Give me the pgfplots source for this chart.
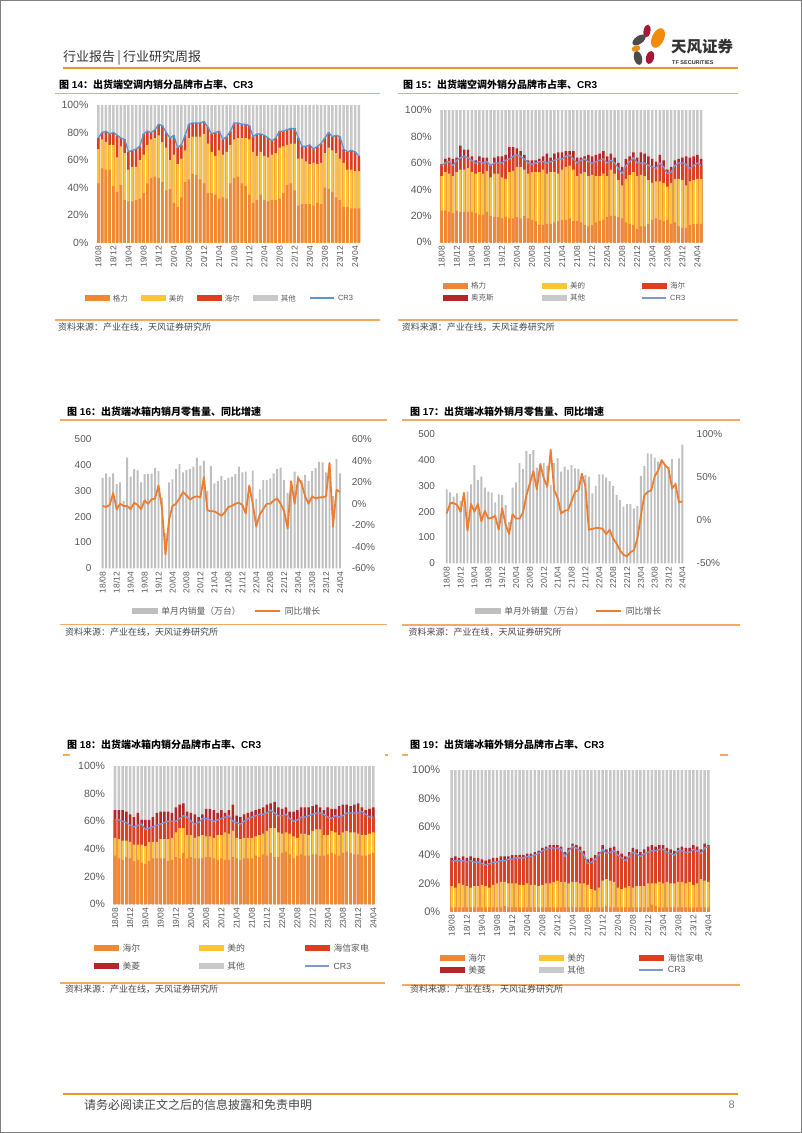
\documentclass[border=0pt]{standalone}
\usepackage{pgfplots}
\pgfplotsset{compat=1.18}
\usepackage{pgfplotstable}
\usepackage{fontspec}
\setmainfont{Liberation Sans}
\newfontfamily\cjk{Noto Sans CJK SC}

\definecolor{corg}{RGB}{240,135,50}
\definecolor{cyel}{RGB}{255,196,52}
\definecolor{cred}{RGB}{222,62,30}
\definecolor{cdred}{RGB}{180,38,40}
\definecolor{cgry}{RGB}{200,200,200}
\definecolor{cblue}{RGB}{85,150,215}
\definecolor{clav}{RGB}{125,152,212}
\definecolor{tickgray}{RGB}{89,89,89}
\definecolor{srcgray}{RGB}{70,70,70}
\definecolor{secline}{RGB}{242,170,100}
\definecolor{hdror}{RGB}{232,150,40}
\definecolor{vbar}{RGB}{191,191,191}
\definecolor{vline}{RGB}{237,125,49}
\definecolor{lgray}{RGB}{75,75,75}
\definecolor{lmaroon}{RGB}{165,25,55}
\definecolor{lorange}{RGB}{240,140,10}

\pgfplotsset{
  base/.style={scale only axis, axis line style={draw=none}, major tick length=0pt,
    tick style={draw=none},
    yticklabel style={text=tickgray},
    xticklabel style={rotate=90, anchor=east, font=\fontsize{8.5}{10}\selectfont, text=tickgray},
    xtick={0,4,...,68},
    xticklabels={18/08,18/12,19/04,19/08,19/12,20/04,20/08,20/12,21/04,21/08,21/12,22/04,22/08,22/12,23/04,23/08,23/12,24/04}},
  pct/.style={ymin=0, ymax=100, ytick={0,20,40,60,80,100},
    yticklabels={0\%,20\%,40\%,60\%,80\%,100\%}},
  bars/.style={ybar, bar shift=0pt, bar width=0.66, draw=none, fill=#1, forget plot},
  legbar/.style={legend image code/.code={\fill[#1] (0pt,-2.4pt) rectangle (24pt,2.4pt);}},
  legln/.style={legend image code/.code={\draw[#1] (0pt,0pt) -- (24pt,0pt);}},
  leg/.style={legend style={draw=none, fill=none, inner sep=0pt, outer sep=0pt, anchor=north west, nodes={inner sep=0.5pt, text depth=0pt}}, legend cell align=left},
}

\pgfplotstableread{
i org yel cr top
0 43 68 76 100
1 54 75 80 100
2 53 73 81 100
3 53 71 79 100
4 41 71 80 100
5 37 62 78 100
6 42 70 76 100
7 31 65 75 100
8 30 53 66 100
9 30 55 67 100
10 31 55 68 100
11 32 60 70 100
12 36 64 79 100
13 43 71 81 100
14 47 75 80 100
15 48 76 82 100
16 47 78 86 100
17 44 73 85 100
18 38 69 80 100
19 39 60 76 100
20 29 64 78 100
21 26 57 69 100
22 33 61 71 100
23 44 67 78 100
24 46 76 86 100
25 50 77 87 100
26 49 77 87 100
27 46 77 87 100
28 43 79 88 100
29 36 72 84 100
30 36 66 79 100
31 35 63 80 100
32 32 67 81 100
33 33 64 75 100
34 32 66 77 100
35 43 71 81 100
36 47 75 87 100
37 48 76 87 100
38 43 76 86 100
39 41 76 86 100
40 35 75 85 100
41 29 66 77 100
42 31 63 79 100
43 35 66 79 100
44 31 63 78 100
45 30 62 76 100
46 31 64 74 100
47 31 65 76 100
48 32 69 81 100
49 36 70 81 100
50 42 71 82 100
51 43 72 83 100
52 38 72 83 100
53 27 61 76 100
54 28 61 70 100
55 28 59 70 100
56 28 57 71 100
57 27 58 68 100
58 29 57 70 100
59 28 58 72 100
60 40 65 76 100
61 39 69 80 100
62 37 67 77 100
63 33 65 78 100
64 31 61 77 100
65 26 58 68 100
66 26 53 66 100
67 25 53 67 100
68 25 52 66 100
69 25 52 63 100
}\tabA

\pgfplotstableread{
i org yel cr tot top
0 24 50 58 59 100
1 24 53 60 63 100
2 23 52 61 64 100
3 22 50 58 63 100
4 24 53 62 64 100
5 23 55 64 73 100
6 23 55 65 70 100
7 23 56 64 70 100
8 23 53 62 65 100
9 22 52 60 62 100
10 21 53 61 65 100
11 21 52 60 64 100
12 23 54 61 64 100
13 20 49 58 59 100
14 19 52 60 64 100
15 19 52 60 65 100
16 18 49 60 65 100
17 19 48 62 66 100
18 18 53 63 72 100
19 18 54 65 72 100
20 19 57 66 71 100
21 18 57 65 69 100
22 20 55 63 66 100
23 18 52 60 62 100
24 17 53 59 62 100
25 16 53 60 62 100
26 13 53 61 63 100
27 13 55 61 65 100
28 14 52 60 67 100
29 14 53 61 64 100
30 15 53 62 67 100
31 16 52 63 68 100
32 17 55 63 68 100
33 17 57 65 69 100
34 18 58 66 69 100
35 16 55 63 69 100
36 16 50 60 64 100
37 15 52 62 64 100
38 13 53 63 65 100
39 12 50 61 66 100
40 13 51 60 65 100
41 15 50 61 66 100
42 16 50 62 67 100
43 17 52 63 69 100
44 19 50 60 65 100
45 20 55 62 67 100
46 20 52 60 64 100
47 19 47 56 60 100
48 18 43 52 57 100
49 15 48 58 63 100
50 14 51 61 65 100
51 13 53 64 68 100
52 10 50 60 64 100
53 12 51 60 68 100
54 12 50 60 67 100
55 14 47 58 65 100
56 17 45 57 63 100
57 18 46 56 61 100
58 17 46 60 66 100
59 16 45 57 62 100
60 17 42 52 55 100
61 14 45 53 57 100
62 15 48 58 62 100
63 12 48 60 63 100
64 11 47 60 64 100
65 11 43 59 65 100
66 13 46 56 64 100
67 14 47 58 65 100
68 14 48 60 66 100
69 14 48 58 63 100
}\tabB

\pgfplotstableread{
i v g
0 351 -2
1 368 -3
2 354 -1
3 368 10
4 326 -5
5 333 0
6 260 -2
7 429 -2
8 355 -5
9 384 1
10 380 -1
11 333 -5
12 365 3
13 365 0
14 367 4
15 388 5
16 377 17
17 274 -5
18 136 -47
19 333 -15
20 345 -2
21 385 0
22 404 5
23 372 11
24 381 8
25 385 4
26 394 6
27 429 7
28 398 6
29 416 25
30 300 -6
31 397 -7
32 329 -7
33 338 -9
34 358 -11
35 342 -8
36 351 -3
37 355 -2
38 365 0
39 394 1
40 372 -1
41 375 -9
42 280 17
43 379 0
44 269 -21
45 306 -10
46 342 -5
47 342 0
48 349 0
49 368 3
50 385 5
51 390 0
52 342 -7
53 291 -23
54 333 21
55 375 0
56 359 24
57 342 19
58 362 7
59 338 0
60 377 7
61 388 5
62 413 6
63 411 6
64 372 7
65 407 38
66 280 -21
67 424 13
68 368 11
}\tabC

\pgfplotstableread{
i v g
0 287 8
1 275 20
2 258 20
3 271 18
4 242 10
5 226 32
6 278 -12
7 306 19
8 381 10
9 323 19
10 336 -1
11 293 11
12 278 2
13 274 3
14 236 5
15 267 -11
16 264 14
17 226 -5
18 160 -16
19 293 7
20 314 2
21 388 2
22 366 9
23 435 29
24 423 43
25 439 57
26 371 36
27 388 65
28 388 49
29 379 39
30 304 82
31 388 35
32 407 26
33 355 8
34 375 11
35 362 12
36 381 22
37 368 33
38 366 35
39 349 54
40 342 40
41 336 -11
42 271 -10
43 300 -9
44 345 -9
45 345 -10
46 332 -16
47 319 -11
48 300 -21
49 265 -27
50 245 -35
51 220 -40
52 229 -42
53 230 -37
54 213 -35
55 222 -21
56 339 5
57 377 29
58 426 33
59 423 35
60 410 51
61 394 58
62 394 70
63 379 64
64 375 60
65 404 37
66 314 42
67 407 21
68 460 22
}\tabD

\pgfplotstableread{
i org yel cr tot top
0 35 48 61 68 100
1 33 47 61 68 100
2 32 46 60 68 100
3 34 46 59 67 100
4 33 45 57 65 100
5 31 43 56 63 100
6 32 43 57 66 100
7 30 43 58 61 100
8 29 42 54 61 100
9 31 45 55 61 100
10 33 45 56 63 100
11 33 45 57 66 100
12 33 47 58 67 100
13 33 47 59 67 100
14 31 47 60 67 100
15 32 48 60 66 100
16 34 52 60 70 100
17 33 55 62 72 100
18 37 55 64 73 100
19 33 50 63 67 100
20 34 50 60 66 100
21 33 48 58 65 100
22 33 49 59 63 100
23 33 50 62 65 100
24 34 49 62 69 100
25 34 49 61 69 100
26 33 48 60 68 100
27 32 50 61 66 100
28 33 50 62 68 100
29 32 52 63 66 100
30 32 51 64 68 100
31 34 53 60 72 100
32 33 48 59 64 100
33 32 47 58 63 100
34 33 48 60 65 100
35 33 48 62 66 100
36 33 48 63 67 100
37 35 49 64 68 100
38 34 50 65 69 100
39 36 51 65 70 100
40 35 53 66 72 100
41 37 55 68 73 100
42 34 55 66 74 100
43 34 52 64 70 100
44 37 51 64 69 100
45 38 52 65 70 100
46 36 51 62 67 100
47 33 49 60 67 100
48 35 48 61 68 100
49 36 51 63 70 100
50 35 51 63 70 100
51 35 50 64 70 100
52 36 53 65 71 100
53 36 54 66 72 100
54 35 54 66 70 100
55 35 50 65 68 100
56 36 50 63 70 100
57 37 53 62 69 100
58 36 52 64 69 100
59 35 50 63 71 100
60 37 52 64 72 100
61 38 53 66 72 100
62 37 52 66 71 100
63 36 52 66 72 100
64 36 51 66 73 100
65 35 50 67 70 100
66 35 50 65 68 100
67 36 51 63 69 100
68 37 52 63 70 100
}\tabE

\pgfplotstableread{
i org yel cr tot top
0 3 18 36 38 100
1 3 17 36 39 100
2 3 20 36 38 100
3 3 19 36 39 100
4 3 18 35 38 100
5 3 17 36 39 100
6 3 18 35 38 100
7 3 18 35 38 100
8 3 19 34 37 100
9 3 18 33 36 100
10 3 17 34 37 100
11 3 19 35 38 100
12 3 20 35 38 100
13 3 21 36 39 100
14 4 21 36 39 100
15 3 20 37 39 100
16 3 20 37 40 100
17 3 20 38 40 100
18 3 19 38 40 100
19 3 19 38 40 100
20 3 20 39 41 100
21 3 19 39 41 100
22 3 19 40 42 100
23 3 18 41 43 100
24 3 19 43 45 100
25 3 20 44 46 100
26 3 20 45 47 100
27 3 21 45 47 100
28 3 22 45 47 100
29 3 21 44 46 100
30 3 21 39 42 100
31 3 20 43 45 100
32 3 21 46 48 100
33 3 21 45 47 100
34 3 20 43 46 100
35 3 20 40 43 100
36 3 19 34 37 100
37 3 16 35 38 100
38 3 15 37 40 100
39 3 17 40 42 100
40 3 22 44 47 100
41 4 23 41 44 100
42 3 22 42 45 100
43 3 21 43 46 100
44 3 17 40 43 100
45 3 16 38 41 100
46 3 17 36 39 100
47 3 18 39 42 100
48 3 17 42 45 100
49 3 18 41 44 100
50 3 18 39 42 100
51 3 18 41 44 100
52 3 20 42 46 100
53 5 20 43 47 100
54 4 20 43 46 100
55 3 21 44 47 100
56 3 20 44 47 100
57 3 21 42 45 100
58 3 20 41 44 100
59 3 20 40 43 100
60 3 21 43 45 100
61 3 21 43 46 100
62 3 20 42 45 100
63 3 21 42 45 100
64 3 19 44 47 100
65 3 20 43 46 100
66 3 23 41 44 100
67 3 22 45 48 100
68 3 21 46 47 100
}\tabF

\begin{document}
\begin{tikzpicture}[x=1pt,y=1pt]
\useasboundingbox (0pt,0pt) rectangle (802pt,-1133pt);
\draw[gray, line width=1.2pt] (0.6pt,-0.6pt) rectangle (801.4pt,-1132.4pt);

% ---------- header ----------
\node[anchor=west, inner sep=0pt, text=black!80] at (63pt,-57.5pt) {\cjk\fontsize{13}{15}\selectfont 行业报告\,|\,行业研究周报};
\draw[hdror, line width=2pt] (63pt,-68pt) -- (738pt,-68pt);
\fill[lgray, rotate around={35:(639pt,-40pt)}] (639pt,-40pt) ellipse (7.5pt and 4pt);
\fill[lmaroon, rotate around={-10:(647pt,-31pt)}] (647pt,-31pt) ellipse (3.5pt and 6.5pt);
\fill[lorange, rotate around={-25:(658pt,-38pt)}] (658pt,-38pt) ellipse (6pt and 10.5pt);
\fill[lorange, rotate around={20:(636pt,-48.5pt)}] (636pt,-48.5pt) ellipse (4.5pt and 3pt);
\fill[lgray, rotate around={15:(638pt,-58pt)}] (638pt,-58pt) ellipse (4pt and 7pt);
\fill[lmaroon, rotate around={-15:(650pt,-57.5pt)}] (650pt,-57.5pt) ellipse (4pt and 6.5pt);
\node[anchor=west, inner sep=0pt, text=black!80] at (671pt,-47pt) {\cjk\bfseries\fontsize{15.5}{17}\selectfont 天风证券};
\node[anchor=west, inner sep=0pt, text=black!80] at (672pt,-63pt) {\bfseries\fontsize{5.5}{6}\selectfont TF SECURITIES};

% ---------- section titles & sources ----------
\node[anchor=west, inner sep=0pt] at (59pt,-84.7pt) {\bfseries\fontsize{10}{12}\selectfont{\cjk 图} 14{\cjk ：出货端空调内销分品牌市占率、}CR3};
\draw[secline, line width=1.2pt] (55pt,-93.3pt) -- (380pt,-93.3pt);
\draw[secline, line width=1.2pt] (55pt,-320pt) -- (380pt,-320pt);
\node[anchor=west, inner sep=0pt, text=srcgray] at (58pt,-327.3pt) {\cjk\fontsize{9}{11}\selectfont 资料来源：产业在线，天风证券研究所};

\node[anchor=west, inner sep=0pt] at (403pt,-85pt) {\bfseries\fontsize{10}{12}\selectfont{\cjk 图} 15{\cjk ：出货端空调外销分品牌市占率、}CR3};
\draw[secline, line width=1.2pt] (398pt,-93.3pt) -- (738pt,-93.3pt);
\draw[secline, line width=1.2pt] (398pt,-320pt) -- (738pt,-320pt);
\node[anchor=west, inner sep=0pt, text=srcgray] at (401.7pt,-327.3pt) {\cjk\fontsize{9}{11}\selectfont 资料来源：产业在线，天风证券研究所};

\node[anchor=west, inner sep=0pt] at (67pt,-411.7pt) {\bfseries\fontsize{10}{12}\selectfont{\cjk 图} 16{\cjk ：出货端冰箱内销月零售量、同比增速}};
\draw[secline, line width=1.2pt] (60pt,-420pt) -- (387pt,-420pt);
\draw[secline, line width=1.2pt] (60pt,-624.3pt) -- (387pt,-624.3pt);
\node[anchor=west, inner sep=0pt, text=srcgray] at (65pt,-632.3pt) {\cjk\fontsize{9}{11}\selectfont 资料来源：产业在线，天风证券研究所};

\node[anchor=west, inner sep=0pt] at (410pt,-411.7pt) {\bfseries\fontsize{10}{12}\selectfont{\cjk 图} 17{\cjk ：出货端冰箱外销月零售量、同比增速}};
\draw[secline, line width=1.2pt] (402pt,-420pt) -- (740pt,-420pt);
\draw[secline, line width=1.2pt] (402pt,-625pt) -- (740pt,-625pt);
\node[anchor=west, inner sep=0pt, text=srcgray] at (408.3pt,-632.3pt) {\cjk\fontsize{9}{11}\selectfont 资料来源：产业在线，天风证券研究所};

\node[anchor=west, inner sep=0pt] at (67pt,-745pt) {\bfseries\fontsize{10}{12}\selectfont{\cjk 图} 18{\cjk ：出货端冰箱内销分品牌市占率、}CR3};
\draw[secline, line width=1.2pt] (63pt,-755pt) -- (70pt,-755pt);
\draw[secline, line width=1.2pt] (385pt,-755pt) -- (388pt,-755pt);
\draw[secline, line width=1.2pt] (60pt,-983pt) -- (385pt,-983pt);
\node[anchor=west, inner sep=0pt, text=srcgray] at (65pt,-989.3pt) {\cjk\fontsize{9}{11}\selectfont 资料来源：产业在线，天风证券研究所};

\node[anchor=west, inner sep=0pt] at (410pt,-745pt) {\bfseries\fontsize{10}{12}\selectfont{\cjk 图} 19{\cjk ：出货端冰箱外销分品牌市占率、}CR3};
\draw[secline, line width=1.2pt] (401.7pt,-755pt) -- (408.3pt,-755pt);
\draw[secline, line width=1.2pt] (720pt,-755pt) -- (728pt,-755pt);
\draw[secline, line width=1.2pt] (402pt,-985pt) -- (740pt,-985pt);
\node[anchor=west, inner sep=0pt, text=srcgray] at (410pt,-989.3pt) {\cjk\fontsize{9}{11}\selectfont 资料来源：产业在线，天风证券研究所};

% ---------- footer ----------
\draw[hdror, line width=2pt] (63pt,-1094pt) -- (738pt,-1094pt);
\node[anchor=west, inner sep=0pt, text=srcgray] at (84pt,-1105pt) {\cjk\fontsize{12}{14}\selectfont 请务必阅读正文之后的信息披露和免责申明};
\node[anchor=east, inner sep=0pt, text=gray] at (735pt,-1105pt) {\fontsize{11}{13}\selectfont 8};

% ---------- chart 14 ----------
\begin{axis}[base, pct, at={(96.4pt,-242.7pt)}, anchor=south west, width=264.3pt, height=137.7pt,
  xmin=-0.5, xmax=69.5,
  yticklabel style={font=\fontsize{10.5}{12}\selectfont, xshift=-4.5pt},
  leg, legend columns=5,
  legend style={at={(-0.0431,-0.3747)}, font=\fontsize{7.5}{9}\selectfont, text=tickgray,
    /tikz/every odd column/.append style={column sep=3pt},
    /tikz/every even column/.append style={column sep=12.6pt}}]
\addplot[bars=cgry] table[x=i,y=top]{\tabA};
\addplot[bars=cred] table[x=i,y=cr]{\tabA};
\addplot[bars=cyel] table[x=i,y=yel]{\tabA};
\addplot[bars=corg] table[x=i,y=org]{\tabA};
\addplot[cblue, line width=1.3pt, line join=round, forget plot] table[x=i,y=cr]{\tabA};
\addlegendimage{legbar=corg}\addlegendentry{\makebox[15pt][l]{\cjk 格力}}
\addlegendimage{legbar=cyel}\addlegendentry{\makebox[15pt][l]{\cjk 美的}}
\addlegendimage{legbar=cred}\addlegendentry{\makebox[15pt][l]{\cjk 海尔}}
\addlegendimage{legbar=cgry}\addlegendentry{\makebox[15pt][l]{\cjk 其他}}
\addlegendimage{legln={cblue,line width=1.5pt}}\addlegendentry{CR3}
\end{axis}

% ---------- chart 15 ----------
\begin{axis}[base, pct, at={(439.8pt,-242.3pt)}, anchor=south west, width=263.2pt, height=132.3pt,
  xmin=-0.5, xmax=69.5,
  yticklabel style={font=\fontsize{10.5}{12}\selectfont, xshift=-4.5pt},
  leg, legend columns=3,
  legend style={at={(0.0133,-0.3001)}, font=\fontsize{7.5}{9}\selectfont, text=tickgray, row sep=4.7pt,
    /tikz/every odd column/.append style={column sep=3pt},
    /tikz/every even column/.append style={column sep=47.4pt}}]
\addplot[bars=cgry] table[x=i,y=top]{\tabB};
\addplot[bars=cdred] table[x=i,y=tot]{\tabB};
\addplot[bars=cred] table[x=i,y=cr]{\tabB};
\addplot[bars=cyel] table[x=i,y=yel]{\tabB};
\addplot[bars=corg] table[x=i,y=org]{\tabB};
\addplot[clav, line width=1.3pt, line join=round, forget plot] table[x=i,y=cr]{\tabB};
\addlegendimage{legbar=corg}\addlegendentry{\makebox[23pt][l]{\cjk 格力}}
\addlegendimage{legbar=cyel}\addlegendentry{\makebox[23pt][l]{\cjk 美的}}
\addlegendimage{legbar=cred}\addlegendentry{\makebox[23pt][l]{\cjk 海尔}}
\addlegendimage{legbar=cdred}\addlegendentry{\makebox[23pt][l]{\cjk 奥克斯}}
\addlegendimage{legbar=cgry}\addlegendentry{\makebox[23pt][l]{\cjk 其他}}
\addlegendimage{legln={clav,line width=1.8pt}}\addlegendentry{\makebox[23pt][l]{CR3}}
\end{axis}

% ---------- chart 16 ----------
\begin{axis}[base, at={(100.95pt,-568.3pt)}, anchor=south west, width=240.8pt, height=129pt,
  xmin=-0.5, xmax=68.5, ymin=0, ymax=500, ytick={0,100,200,300,400,500},
  yticklabels={0,100,200,300,400,500},
  yticklabel style={font=\fontsize{10}{12}\selectfont, xshift=-6pt}]
\addplot[ybar, bar shift=0pt, bar width=0.55, draw=none, fill=vbar, forget plot] table[x=i,y=v]{\tabC};
\end{axis}
\begin{axis}[scale only axis, at={(100.95pt,-568.3pt)}, anchor=south west, width=240.8pt, height=129pt,
  xmin=-0.5, xmax=68.5, ymin=-60, ymax=60, xtick=\empty,
  ytick={-60,-40,-20,0,20,40,60},
  yticklabels={-60\%,-40\%,-20\%,0\%,20\%,40\%,60\%},
  axis y line*=right, axis x line=none, axis line style={draw=none}, major tick length=0pt,
  yticklabel style={font=\fontsize{10}{12}\selectfont, text=tickgray, xshift=6.5pt},
  leg, legend columns=2,
  legend style={at={(0.129,-0.296)}, font=\fontsize{8.8}{10}\selectfont, text=tickgray,
    /tikz/every odd column/.append style={column sep=3.5pt},
    /tikz/every even column/.append style={column sep=13pt}}]
\addplot[vline, line width=1.8pt, line join=round, forget plot] table[x=i,y=g]{\tabC};
\addlegendimage{legend image code/.code={\fill[vbar] (0pt,-2.4pt) rectangle (25pt,2.4pt);}}
\addlegendentry{\cjk 单月内销量（万台）}
\addlegendimage{legend image code/.code={\draw[vline,line width=1.8pt] (0pt,0pt) -- (25pt,0pt);}}
\addlegendentry{\cjk 同比增长}
\end{axis}

% ---------- chart 17 ----------
\begin{axis}[base, at={(444.97pt,-563.3pt)}, anchor=south west, width=239.2pt, height=129pt,
  xmin=-0.5, xmax=68.5, ymin=0, ymax=500, ytick={0,100,200,300,400,500},
  yticklabels={0,100,200,300,400,500},
  yticklabel style={font=\fontsize{10}{12}\selectfont, xshift=-6.5pt}]
\addplot[ybar, bar shift=0pt, bar width=0.55, draw=none, fill=vbar, forget plot] table[x=i,y=v]{\tabD};
\end{axis}
\begin{axis}[scale only axis, at={(444.97pt,-563.3pt)}, anchor=south west, width=239.2pt, height=129pt,
  xmin=-0.5, xmax=68.5, ymin=-50, ymax=100, xtick=\empty,
  ytick={-50,0,50,100},
  yticklabels={-50\%,0\%,50\%,100\%},
  axis y line*=right, axis x line=none, axis line style={draw=none}, major tick length=0pt,
  yticklabel style={font=\fontsize{10}{12}\selectfont, text=tickgray, xshift=9pt},
  leg, legend columns=2,
  legend style={at={(0.1255,-0.335)}, font=\fontsize{8.8}{10}\selectfont, text=tickgray,
    /tikz/every odd column/.append style={column sep=3.5pt},
    /tikz/every even column/.append style={column sep=11pt}}]
\addplot[vline, line width=1.8pt, line join=round, forget plot] table[x=i,y=g]{\tabD};
\addlegendimage{legend image code/.code={\fill[vbar] (0pt,-2.4pt) rectangle (25pt,2.4pt);}}
\addlegendentry{\cjk 单月外销量（万台）}
\addlegendimage{legend image code/.code={\draw[vline,line width=1.8pt] (0pt,0pt) -- (25pt,0pt);}}
\addlegendentry{\cjk 同比增长}
\end{axis}

% ---------- chart 18 ----------
\begin{axis}[base, pct, at={(113.1pt,-904pt)}, anchor=south west, width=262.1pt, height=138pt,
  xmin=-0.5, xmax=68.5,
  yticklabel style={font=\fontsize{10.5}{12}\selectfont, xshift=-4.5pt},
  leg, legend columns=3,
  legend style={at={(-0.0717,-0.2848)}, font=\fontsize{8.8}{10}\selectfont, text=tickgray, row sep=10pt,
    /tikz/every odd column/.append style={column sep=3.4pt},
    /tikz/every even column/.append style={column sep=41pt}}]
\addplot[bars=cgry] table[x=i,y=top]{\tabE};
\addplot[bars=cdred] table[x=i,y=tot]{\tabE};
\addplot[bars=cred] table[x=i,y=cr]{\tabE};
\addplot[bars=cyel] table[x=i,y=yel]{\tabE};
\addplot[bars=corg] table[x=i,y=org]{\tabE};
\addplot[clav, line width=1.3pt, line join=round, forget plot] table[x=i,y=cr]{\tabE};
\addlegendimage{legbar=corg}\addlegendentry{\makebox[35pt][l]{\cjk 海尔}}
\addlegendimage{legbar=cyel}\addlegendentry{\makebox[35pt][l]{\cjk 美的}}
\addlegendimage{legbar=cred}\addlegendentry{\makebox[35pt][l]{\cjk 海信家电}}
\addlegendimage{legbar=cdred}\addlegendentry{\makebox[35pt][l]{\cjk 美菱}}
\addlegendimage{legbar=cgry}\addlegendentry{\makebox[35pt][l]{\cjk 其他}}
\addlegendimage{legln={clav,line width=1.8pt}}\addlegendentry{\makebox[35pt][l]{CR3}}
\end{axis}

% ---------- chart 19 ----------
\begin{axis}[base, pct, at={(449.8pt,-911.7pt)}, anchor=south west, width=260.5pt, height=141.7pt,
  xmin=-0.5, xmax=68.5,
  yticklabel style={font=\fontsize{11}{12}\selectfont, xshift=-6pt},
  leg, legend columns=3,
  legend style={at={(-0.0376,-0.2936)}, font=\fontsize{8.8}{10}\selectfont, text=tickgray, row sep=3.7pt,
    /tikz/every odd column/.append style={column sep=3.4pt},
    /tikz/every even column/.append style={column sep=35.3pt}}]
\addplot[bars=cgry] table[x=i,y=top]{\tabF};
\addplot[bars=cdred] table[x=i,y=tot]{\tabF};
\addplot[bars=cred] table[x=i,y=cr]{\tabF};
\addplot[bars=cyel] table[x=i,y=yel]{\tabF};
\addplot[bars=corg] table[x=i,y=org]{\tabF};
\addplot[clav, line width=1.3pt, line join=round, forget plot] table[x=i,y=cr]{\tabF};
\addlegendimage{legbar=corg}\addlegendentry{\makebox[35pt][l]{\cjk 海尔}}
\addlegendimage{legbar=cyel}\addlegendentry{\makebox[35pt][l]{\cjk 美的}}
\addlegendimage{legbar=cred}\addlegendentry{\makebox[35pt][l]{\cjk 海信家电}}
\addlegendimage{legbar=cdred}\addlegendentry{\makebox[35pt][l]{\cjk 美菱}}
\addlegendimage{legbar=cgry}\addlegendentry{\makebox[35pt][l]{\cjk 其他}}
\addlegendimage{legln={clav,line width=1.8pt}}\addlegendentry{\makebox[35pt][l]{CR3}}
\end{axis}
\end{tikzpicture}
\end{document}
